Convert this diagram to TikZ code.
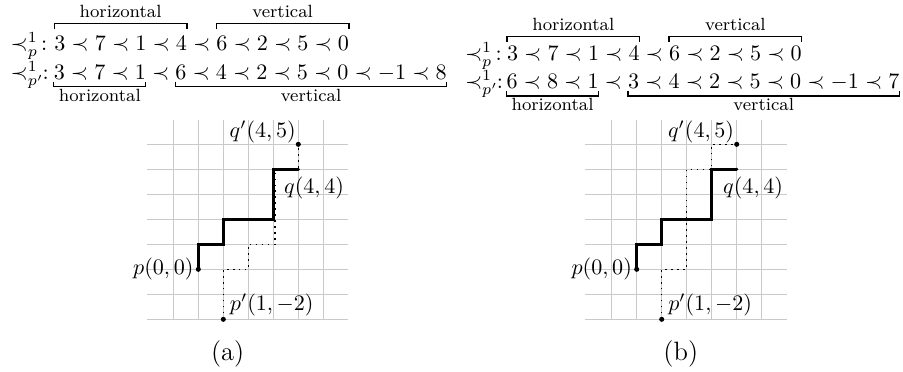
\documentclass[tikz,border=0pt]{standalone}
\usetikzlibrary{calc}
\newcommand{\rowlab}[1]{\makebox[16.6pt][l]{$\prec^1_{#1}$\kern-0.7pt\hfill:}}
\begin{document}
\begin{tikzpicture}[x=0.4525pt,y=-0.4525pt,
  seq/.style={inner sep=0pt, outer sep=0pt, anchor=base west},
  rowlabel/.style={inner sep=0pt, outer sep=0pt, anchor=base west},
  brk/.style={line width=0.55pt},
  brklabel/.style={inner sep=0pt, outer sep=0pt, anchor=base, font=\footnotesize},
  gridline/.style={gray!42, line width=0.6pt},
  walk/.style={line width=1.1pt, line join=miter},
  walkalt/.style={dotted, line width=0.7pt},
  dot/.style={circle, fill, inner sep=0pt, minimum size=2.3pt},
  smalldot/.style={circle, fill, inner sep=0pt, minimum size=1.5pt},
  ptlabel/.style={inner sep=0pt, outer sep=0pt},
  caption/.style={inner sep=0pt, font=\large}]
\useasboundingbox (0,0) rectangle (903,372);

% ---------------- (a) sequences ----------------
\node[rowlabel] (L1a) at (10.7,50.7) {\rowlab{p}};
\node[seq] (H1a) at (54.3,50.7) {$3\prec 7\prec 1\prec 4$};
\node[seq] (R1a) at (H1a.base east) {${}\prec{}$};
\node[seq] (V1a) at (R1a.base east) {$6\prec 2\prec 5\prec 0$};
\node[rowlabel] (L2a) at (10.7,79.5) {\rowlab{p'}};
\node[seq] (H2a) at (53.8,79.5) {$3\prec 7\prec 1$};
\node[seq] (R2a) at (H2a.base east) {${}\prec{}$};
\node[seq] (V2a) at (R2a.base east) {$6\prec 4\prec 2\prec 5\prec 0\prec -1\prec 8$};

\draw[brk] ([shift={(0,-21.4)}]H1a.base west) -- ++(0,-6) -| ([shift={(0,-21.4)}]H1a.base east);
\draw[brk] ([shift={(0,-21.4)}]V1a.base west) -- ++(0,-6) -| ([shift={(0,-21.4)}]V1a.base east);
\node[brklabel] (TH1a) at ([shift={(0,-33.4)}]H1a.base) {horizontal};
\node[brklabel] (TV1a) at ([shift={(0,-33.4)}]V1a.base) {vertical};

\draw[brk] ([shift={(0,2.2)}]H2a.base west) -- ++(0,5) -| ([shift={(0,2.2)}]H2a.base east);
\draw[brk] ([shift={(0,2.2)}]V2a.base west) -- ++(0,5) -| ([shift={(0,2.2)}]V2a.base east);
\node[brklabel] (BH2a) at ([shift={(0,22.2)}]H2a.base) {horizontal};
\node[brklabel] (BV2a) at ([shift={(0,22.2)}]V2a.base) {vertical};

% ---------------- (b) sequences ----------------
\node[rowlabel] (L1b) at (465,60.7) {\rowlab{p}};
\node[seq] (H1b) at (507,60.7) {$3\prec 7\prec 1\prec 4$};
\node[seq] (R1b) at (H1b.base east) {${}\prec{}$};
\node[seq] (V1b) at (R1b.base east) {$6\prec 2\prec 5\prec 0$};
\node[rowlabel] (L2b) at (465,88.3) {\rowlab{p'}};
\node[seq] (H2b) at (506.5,88.3) {$6\prec 8\prec 1$};
\node[seq] (R2b) at (H2b.base east) {${}\prec{}$};
\node[seq] (V2b) at (R2b.base east) {$3\prec 4\prec 2\prec 5\prec 0\prec -1\prec 7$};

\draw[brk] ([shift={(0,-19)}]H1b.base west) -- ++(0,-5) -| ([shift={(0,-19)}]H1b.base east);
\draw[brk] ([shift={(0,-19)}]V1b.base west) -- ++(0,-5) -| ([shift={(0,-19)}]V1b.base east);
\node[brklabel] (TH1b) at ([shift={(0,-29.7)}]H1b.base) {horizontal};
\node[brklabel] (TV1b) at ([shift={(0,-29.7)}]V1b.base) {vertical};

\draw[brk] ([shift={(0,2.7)}]H2b.base west) -- ++(0,5) -| ([shift={(0,2.7)}]H2b.base east);
\draw[brk] ([shift={(0,2.7)}]V2b.base west) -- ++(0,5) -| ([shift={(0,2.7)}]V2b.base east);
\node[brklabel] (BH2b) at ([shift={(0,21.7)}]H2b.base) {horizontal};
\node[brklabel] (BV2b) at ([shift={(0,21.7)}]V2b.base) {vertical};

% ---------------- (a) grid ----------------
\begin{scope}[shift={(198.3,269.3)}, x=11.3125pt, y=11.3125pt]
  \foreach \i in {-1,...,5} \draw[gridline] (\i,-2.03) -- (\i,5.97);
  \foreach \j in {-2,...,5} \draw[gridline] (-2.06,\j) -- (6,\j);
  \node[dot] (pa) at (0,0) {};
  \node[dot] (ppa) at (1,-2) {};
  \node[smalldot] (qa) at (4,4) {};
  \node[dot] (qqa) at (4,5) {};
  \draw[walkalt] (ppa.center) -- (1,0) -- (2,0) -- (2,1) -- (3.07,1) -- (3.07,3.96) -- (4,3.96) -- (qqa.center);
  \draw[walk] (pa.center) -- (0,1) -- (1,1) -- (1,2) -- (3,2) -- (3,4) -- (qa.center);
  \node[ptlabel, anchor=east, xshift=-2.2pt] (lpa) at (pa.center) {$p(0,0)$};
  \node[ptlabel, anchor=south west, xshift=3pt, yshift=1.5pt] (lppa) at (ppa.center) {$p'(1,-2)$};
  \node[ptlabel, anchor=south east, xshift=-1.2pt, yshift=0.4pt] (lqqa) at (qqa.center) {$q'(4,5)$};
  \node[ptlabel, anchor=north west, xshift=-6.4pt, yshift=-3.4pt] (lqa) at (qa.center) {$q(4,4)$};
\end{scope}

% ---------------- (b) grid ----------------
\begin{scope}[shift={(636.7,269.3)}, x=11.3125pt, y=11.3125pt]
  \foreach \i in {-1,...,5} \draw[gridline] (\i,-2.03) -- (\i,5.97);
  \foreach \j in {-2,...,5} \draw[gridline] (-2.06,\j) -- (6,\j);
  \node[dot] (pb) at (0,0) {};
  \node[dot] (ppb) at (1,-2) {};
  \node[smalldot] (qb) at (4,4) {};
  \node[dot] (qqb) at (4,5) {};
  \draw[walkalt] (ppb.center) -- (1,0) -- (2,0) -- (2,4) -- (3,4) -- (3,5) -- (qqb.center);
  \draw[walk] (pb.center) -- (0,1) -- (1,1) -- (1,2) -- (3,2) -- (3,4) -- (qb.center);
  \node[ptlabel, anchor=east, xshift=-2.2pt] (lpb) at (pb.center) {$p(0,0)$};
  \node[ptlabel, anchor=south west, xshift=3pt, yshift=1.5pt] (lppb) at (ppb.center) {$p'(1,-2)$};
  \node[ptlabel, anchor=south east, xshift=-1.2pt, yshift=0.4pt] (lqqb) at (qqb.center) {$q'(4,5)$};
  \node[ptlabel, anchor=north west, xshift=-6.1pt, yshift=-3.4pt] (lqb) at (qb.center) {$q(4,4)$};
\end{scope}

% ---------------- captions ----------------
\node[caption] (capa) at (227.7,353.8) {(a)};
\node[caption] (capb) at (680.8,353.8) {(b)};
\end{tikzpicture}
\end{document}
